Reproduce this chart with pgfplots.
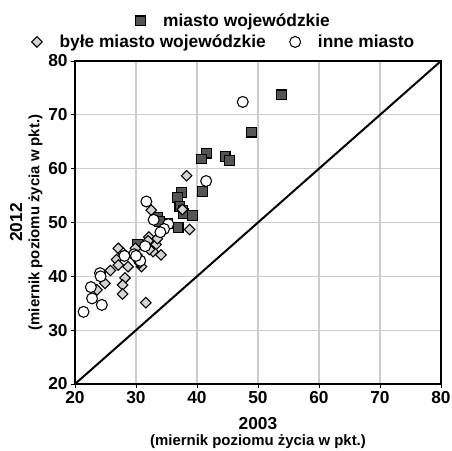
\documentclass[border=0pt]{standalone}
\usepackage{fontspec}
\setmainfont{Liberation Sans}
\usepackage{pgfplots}
\pgfplotsset{compat=1.18}
\definecolor{sq}{HTML}{555555}
\definecolor{dm}{HTML}{D4D4D4}
\definecolor{gr}{HTML}{CCCCCC}
\begin{document}
\begin{tikzpicture}
\path[use as bounding box] (-56.25pt,-49.5pt) rectangle (282.75pt,288pt);
\begin{axis}[
 scale only axis, width=274.5pt, height=242.25pt,
 xmin=20,xmax=80,ymin=20,ymax=80,
 xtick={20,30,...,80}, ytick={20,30,...,80},
 grid=major, major grid style={gr, line width=0.8pt},
 axis line style={black, line width=1pt},
 tick style={black, line width=0.6pt}, major tick length=3pt, tick align=outside,
 xtick pos=left, ytick pos=left,
 /pgf/number format/assume math mode=true,
 ticklabel style={font=\bfseries\fontsize{13}{13}\selectfont},
 xticklabel style={yshift=1pt},
 yticklabel style={xshift=1pt},
 xlabel={{\fontsize{13}{15}\selectfont 2003}\\{\fontsize{11.2}{13}\selectfont (miernik poziomu życia w pkt.)}},
 xlabel style={at={(axis description cs:0.5,-0.104)}, anchor=north, align=center, font=\bfseries, inner sep=0pt},
 ylabel={{\fontsize{13}{15}\selectfont 2012}\\[1pt]{\fontsize{11.2}{13}\selectfont (miernik poziomu życia w pkt.)}},
 ylabel style={at={(axis description cs:-0.088,0.5)}, anchor=south, align=center, font=\bfseries, inner sep=0pt},
 legend columns=2,
 legend style={at={(axis description cs:0.408,1.059)}, anchor=center, draw=none, fill=none,
   font=\bfseries\fontsize{13}{15}\selectfont,
   /tikz/every odd column/.append style={column sep=11pt},
   /tikz/every even column/.append style={column sep=16pt}},
]
\addplot[black, line width=1.5pt, forget plot] coordinates {(20,20) (80,80)};
\addplot[only marks, mark=square*, mark size=3.7pt, mark options={fill=sq, draw=black, line width=0.8pt}, forget plot] coordinates {
(53.9,73.7) (48.9,66.8) (41.5,62.9) (40.8,61.8) (44.6,62.2) (45.3,61.5)
(40.9,55.8) (37.5,55.5) (36.8,54.7) (37.2,53.0) (37.7,52.2) (37.8,51.7)
(39.2,51.3) (33.6,51.0) (35.2,49.9) (36.9,49.0) (33.9,50.2) (30.3,46.0)
};
\addplot[only marks, mark=square*, mark size=2.8pt, mark options={rotate=45, fill=dm, draw=black, line width=0.8pt}] coordinates {
(38.3,58.7) (32.5,52.3) (37.6,52.4) (38.8,48.7) (32.1,47.3) (33.1,46.5)
(33.3,45.9) (32.8,44.6) (34.1,44.0) (32.2,45.0) (31.6,35.1) (30.9,41.8)
(30.6,42.5) (28.7,41.8) (27.1,45.2) (27.9,44.3) (26.8,43.1) (27.1,42.1)
(25.8,41.1) (24.9,38.7) (23.6,37.5) (28.2,39.7) (27.8,38.4) (27.8,36.7)
(29.9,45.2) (32.0,46.6) (33.5,47.0)
};
\addlegendentry{byłe miasto wojewódzkie}
\addplot[only marks, mark=*, mark size=4.1pt, mark options={fill=white, draw=black, line width=0.8pt}] coordinates {
(47.5,72.4) (41.5,57.7) (31.7,53.9) (32.9,50.5) (35.3,49.7) (34.6,48.8)
(34.0,48.2) (31.5,45.6) (29.7,44.1) (30.3,43.4) (30.7,42.9) (28.1,43.8)
(24.1,40.6) (24.2,40.0) (22.6,38.0) (22.8,35.9) (24.4,34.7) (21.4,33.4)
(30.0,43.8)
};
\addlegendentry{inne miasto}
\end{axis}
\begin{axis}[
 scale only axis, width=274.5pt, height=242.25pt, hide axis,
 xmin=0,xmax=1,ymin=0,ymax=1,
 legend style={at={(axis description cs:0.435,1.124)}, anchor=center, draw=none, fill=none,
   font=\bfseries\fontsize{13}{15}\selectfont,
   /tikz/every odd column/.append style={column sep=11pt}},
]
\addlegendimage{only marks, mark=square*, mark size=3.7pt, mark options={fill=sq, draw=black, line width=0.8pt}}
\addlegendentry{miasto wojewódzkie}
\end{axis}
\end{tikzpicture}
\end{document}
